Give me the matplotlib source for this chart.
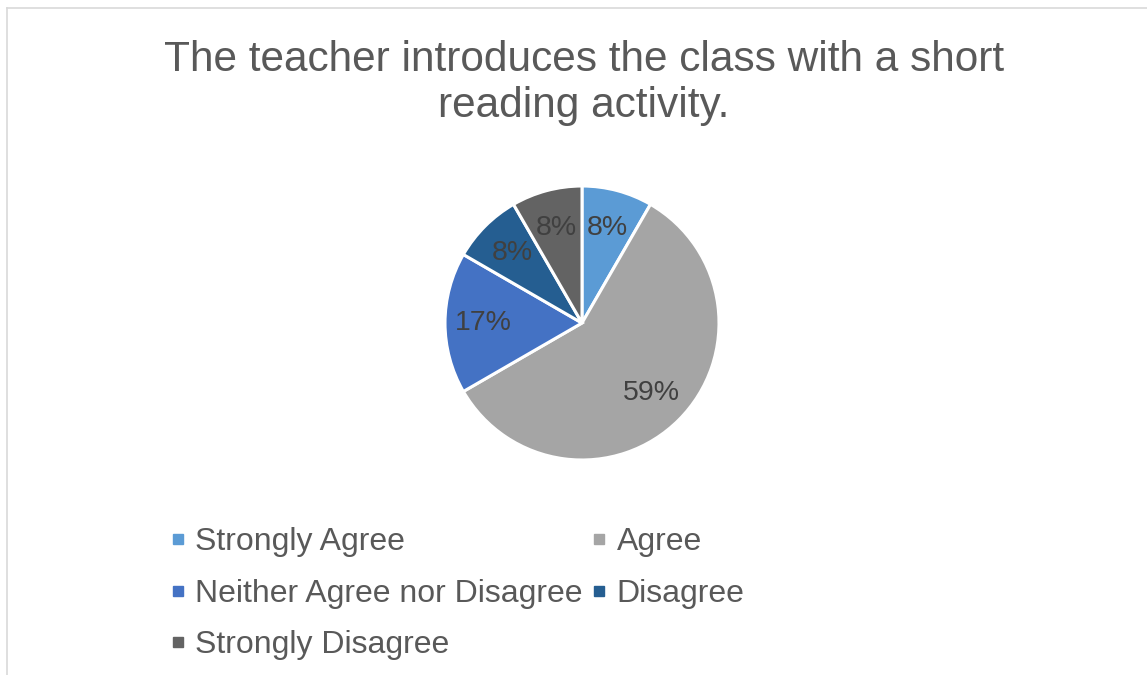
import numpy as np
import matplotlib.pyplot as plt
from matplotlib.lines import Line2D

plt.rcParams['font.family'] = ['Liberation Sans', 'DejaVu Sans']

categories = ["Strongly Agree", "Agree", "Neither Agree nor Disagree",
              "Disagree", "Strongly Disagree"]
counts = [1, 7, 2, 1, 1]
pct_labels = ["8%", "59%", "17%", "8%", "8%"]
colors = ["#5B9BD5", "#A5A5A5", "#4472C4", "#255E91", "#636363"]

W, H = 1147, 675
fig = plt.figure(figsize=(W / 100, H / 100), dpi=100)

# chart area border (only top and left visible in the crop)
fig.add_artist(Line2D([7 / W, 7 / W], [0, 1 - 8 / H], color="#D9D9D9", lw=1.2))
fig.add_artist(Line2D([7 / W, 1], [1 - 8 / H, 1 - 8 / H], color="#D9D9D9", lw=1.2))

cx, cy, r = 582, 323, 137
ax = fig.add_axes([(cx - r) / W, (H - cy - r) / H, 2 * r / W, 2 * r / H])
wedges, texts = ax.pie(counts, colors=colors, startangle=90, counterclock=False,
                       wedgeprops=dict(edgecolor="white", linewidth=2.2))
for w, lab in zip(wedges, pct_labels):
    ang = np.deg2rad((w.theta1 + w.theta2) / 2)
    ax.text(0.72 * np.cos(ang), 0.72 * np.sin(ang), lab, ha="center", va="center",
            fontsize=20.5, color="#404040")
ax.set_xlim(-1, 1)
ax.set_ylim(-1, 1)
ax.set_aspect("equal")

fig.text(584 / W, 1 - 83 / H, "The teacher introduces the class with a short\nreading activity.",
         ha="center", va="center", fontsize=30.5, color="#595959", linespacing=1.2)

order = [0, 2, 4, 1, 3]
handles = [Line2D([], [], marker="s", ls="", markersize=7.5, color=colors[i]) for i in order]
labels = [categories[i] for i in order]
fig.legend(handles, labels, ncol=2, loc="upper left", bbox_to_anchor=(168 / W, 1 - 527 / H),
           frameon=False, fontsize=23, labelcolor="#595959", handletextpad=0.25,
           handlelength=0.6, columnspacing=0.22, labelspacing=0.68,
           borderaxespad=0, borderpad=0)

fig.savefig("out.png", dpi=100)
